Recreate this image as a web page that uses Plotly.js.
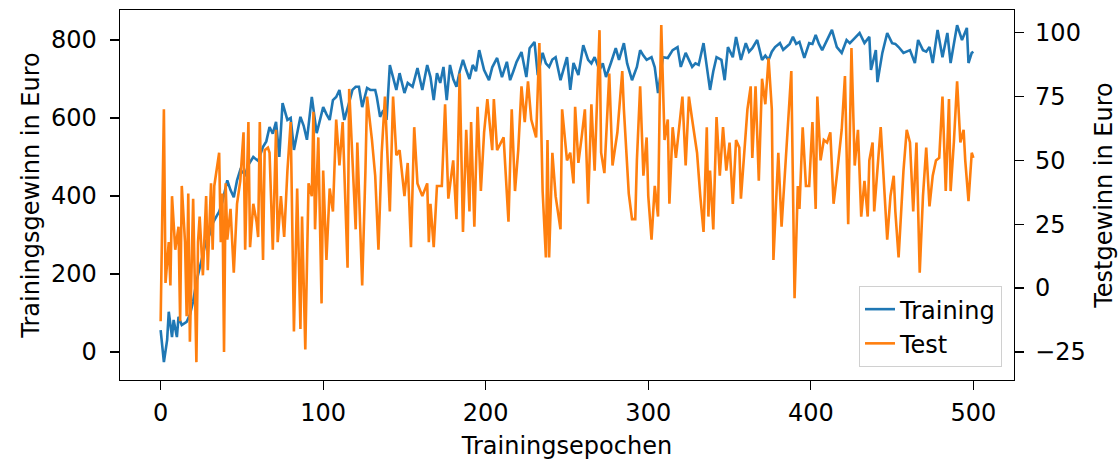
<!DOCTYPE html>
<html>
<head>
<meta charset="utf-8">
<script src="https://cdn.plot.ly/plotly-3.0.1.min.js"></script>
<style>html,body{margin:0;padding:0;background:#fff;}#chart{width:1118px;height:460px;}</style>
</head>
<body>
<div id="chart"></div>
<script>
// Training (left axis) – epoch / value
const trainEpochs = [0,2,4,5,7,8,10,11,13,16,18,20,22,24,26,28,30,32,34,36,38,41,43,45,47,49,52,54,57,60,63,65,67,69,71,73,75,78,80,82,86,88,90,93,96,100,102,104,106,108,110,113,116,118,120,122,124,127,129,132,133,135,137,139,141,143,145,147,150,152,155,158,161,164,166,168,170,172,174,176,178,180,182,184,186,188,190,192,194,196,199,202,204,207,210,213,215,217,219,222,225,227,230,232,235,237,239,241,243,246,248,250,252,254,257,260,263,265,267,270,272,274,277,280,282,285,287,290,293,295,297,299,302,304,306,309,312,315,318,320,323,325,327,329,331,334,336,338,340,342,345,347,349,352,354,357,360,362,364,367,370,372,374,376,378,381,383,385,387,389,391,393,396,399,401,403,405,407,410,413,416,419,422,424,427,430,433,436,437,440,441,444,447,450,452,454,457,459,461,464,466,469,471,473,475,478,481,484,486,488,490,493,496,497,499,500];
const trainValues = [56,-26,31,103,38,82,38,90,69,77,95,130,180,215,250,285,300,330,345,360,385,440,415,397,440,467,455,480,500,490,526,540,577,560,590,500,638,595,600,518,603,580,544,654,561,628,610,595,646,654,672,595,640,672,680,680,628,677,672,672,654,603,620,595,736,700,672,715,664,690,680,728,672,736,705,646,715,690,731,646,736,700,680,720,749,723,700,736,720,774,723,697,730,754,705,744,697,720,744,769,705,779,795,710,767,740,731,750,756,697,730,756,672,741,710,787,749,740,756,723,740,705,741,779,749,792,740,697,731,774,760,749,756,730,664,756,754,774,782,731,767,750,731,740,736,792,730,672,720,756,749,697,782,756,808,749,792,770,779,800,749,760,749,770,782,792,775,782,790,808,790,795,754,792,790,813,790,774,800,826,782,767,800,792,805,818,792,808,723,774,692,767,818,792,790,782,767,770,774,741,800,774,770,782,741,826,756,818,741,790,838,800,831,741,767,770];

// Test (right axis)
const testEpochs = [0,2,3,5,6,7,9,11,12,13,15,16,17,18,20,22,23,24,26,28,29,31,32,33,36,37,38,39,40,41,43,45,47,49,51,52,54,55,57,59,60,61,63,64,66,67,69,71,72,74,76,78,80,82,84,86,87,89,91,93,94,95,97,99,100,102,104,106,108,110,112,115,116,118,120,121,124,126,127,130,132,134,136,138,141,143,145,147,150,152,154,156,158,161,164,165,166,168,170,173,175,177,180,182,184,186,188,190,191,193,195,197,199,201,204,205,207,211,214,216,218,220,222,224,226,228,231,233,235,237,238,239,241,243,246,247,250,252,254,255,257,259,261,263,265,267,270,271,273,276,278,281,284,285,288,290,292,293,295,297,299,300,302,304,306,307,308,310,312,313,315,317,320,321,323,325,327,330,332,334,336,337,338,340,342,344,346,348,350,352,354,356,357,359,361,363,364,366,368,370,372,374,376,377,380,382,384,386,388,390,392,393,395,397,399,401,403,404,406,408,410,412,414,416,419,421,423,425,427,429,431,433,435,436,438,439,441,443,445,447,449,451,452,454,457,459,461,463,465,467,469,471,473,475,477,479,481,483,485,486,488,490,492,494,495,497,499,500];
const testValues = [-13,70,2,18,1,36,15,24,-13,40,18,-11,37,-21,35,-29,18,28,5,36,7,41,15,40,53,18,37,-25,41,19,31,6,33,42,61,15,65,16,33,26,20,65,11,54,55,53,15,62,18,36,20,46,65,-17,39,-16,28,-24,41,36,69,23,59,-6,46,11,39,30,66,48,65,8,78,48,23,57,1,46,75,58,44,15,53,75,30,75,52,54,36,49,16,63,41,36,41,18,33,16,40,40,72,35,50,27,84,22,62,30,65,24,71,38,61,74,54,74,54,59,26,70,38,54,79,65,81,66,59,96,38,12,58,12,53,36,23,70,50,53,41,71,49,59,70,33,72,46,101,53,45,84,48,61,85,70,37,27,27,50,79,44,59,36,19,40,28,71,103,58,66,33,63,51,70,75,48,75,66,53,36,22,63,28,46,23,67,44,63,46,57,33,58,55,35,51,70,79,51,79,42,82,72,90,70,11,53,24,46,66,85,-4,40,31,63,40,40,65,31,75,50,58,57,61,33,44,62,83,25,94,48,62,28,42,28,50,57,30,46,63,41,19,36,44,30,12,46,62,57,30,57,6,36,55,32,44,50,51,75,38,74,38,57,81,57,62,50,34,53,51];

const xTicks = [0,100,200,300,400,500];
const yTicksLeft = [0,200,400,600,800];
const yTicksRight = [-25,0,25,50,75,100];

const FONT = 'DejaVu Sans, sans-serif';
const FS = 24;

const traces = [
  {x: trainEpochs, y: trainValues, type: 'scatter', mode: 'lines', name: 'Training',
   line: {color: '#1f77b4', width: 2.6}, yaxis: 'y'},
  {x: testEpochs, y: testValues, type: 'scatter', mode: 'lines', name: 'Test',
   line: {color: '#ff7f0e', width: 2.6}, yaxis: 'y2'}
];

const axisCommon = {
  showgrid: false, zeroline: false, showline: true, linecolor: '#000', linewidth: 1.3,
  ticks: 'outside', ticklen: 9, tickwidth: 1.3, tickcolor: '#000',
  tickfont: {family: FONT, size: FS, color: '#000'}
};

const layout = {
  width: 1118, height: 460,
  margin: {l: 120, r: 104, t: 10, b: 80, pad: 0},
  paper_bgcolor: '#fff', plot_bgcolor: '#fff',
  font: {family: FONT, size: FS, color: '#000'},
  showlegend: true,
  legend: {x: 0.9866, y: 0.035, xanchor: 'right', yanchor: 'bottom',
    bgcolor: 'rgba(255,255,255,0.8)', bordercolor: '#d0d0d0', borderwidth: 1,
    font: {family: FONT, size: FS, color: '#000'}},
  xaxis: Object.assign({}, axisCommon, {
    range: [-25, 525], tickvals: xTicks, mirror: true, ticklabelstandoff: 2,
    title: {text: 'Trainingsepochen', font: {family: FONT, size: FS, color: '#000'}, standoff: 13}
  }),
  yaxis: Object.assign({}, axisCommon, {
    range: [-72, 877], tickvals: yTicksLeft, ticklabelstandoff: 8,
    title: {text: 'Trainingsgewinn in Euro', font: {family: FONT, size: FS, color: '#000'}, standoff: 4}
  }),
  yaxis2: Object.assign({}, axisCommon, {
    range: [-36, 108.9], tickvals: yTicksRight, overlaying: 'y', side: 'right', ticklabelstandoff: 6,
    title: {text: 'Testgewinn in Euro', font: {family: FONT, size: FS, color: '#000'}, standoff: 12}
  })
};

Plotly.newPlot('chart', traces, layout, {staticPlot: true, displayModeBar: false});
</script>
</body>
</html>
